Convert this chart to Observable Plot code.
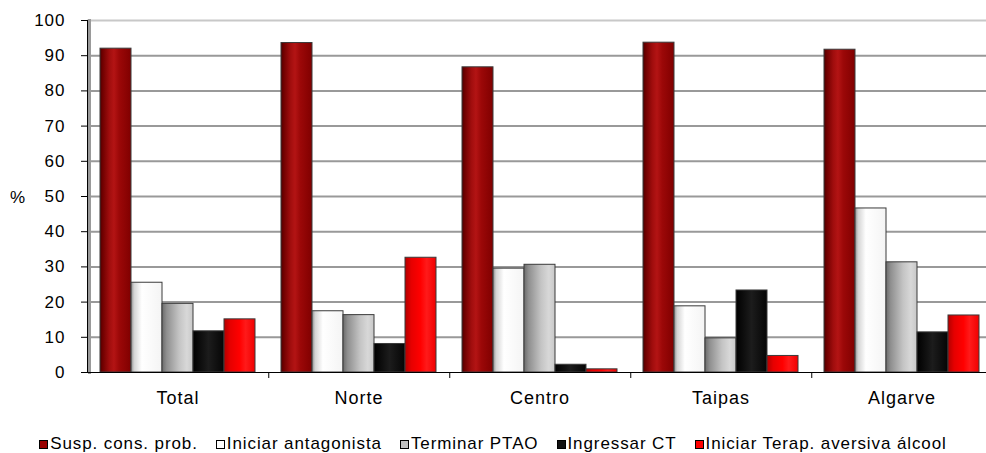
<!DOCTYPE html>
<html><head><meta charset="utf-8">
<script src="https://cdn.jsdelivr.net/npm/d3@7"></script>
<script src="https://cdn.jsdelivr.net/npm/@observablehq/plot@0.6"></script>
<style>
body{margin:0;background:#fff;font-family:"Liberation Sans",Arial,sans-serif;}
#wrap{position:relative;width:986px;height:453px;overflow:hidden;}
#ylab{position:absolute;left:10px;top:188px;font-size:17px;color:#000;}
#legend{position:absolute;left:0;top:434px;width:986px;display:flex;justify-content:center;font-size:17px;letter-spacing:0.9px;color:#000;}
.item{display:flex;align-items:center;margin:0 9px;white-space:nowrap;}
.sw{width:7px;height:7px;border:1px solid #000;margin-right:2px;}
</style></head><body>
<div id="wrap"><div id="chart"></div><div id="ylab">%</div><div id="legend"></div></div>
<script>
const categories = ["Total", "Norte", "Centro", "Taipas", "Algarve"];
const series = ["Susp. cons. prob.", "Iniciar antagonista", "Terminar PTAO", "Ingressar CT", "Iniciar Terap. aversiva álcool"];
const suspConsProb = [92.0, 93.6, 86.7, 93.7, 91.7];
const iniciarAntagonista = [25.5, 17.4, 29.5, 18.8, 46.6];
const terminarPTAO = [19.5, 16.3, 30.6, 9.7, 31.3];
const ingressarCT = [11.7, 8.1, 2.2, 23.3, 11.4];
const iniciarTerap = [15.1, 32.6, 0.9, 4.7, 16.2];
const yTicks = [0, 10, 20, 30, 40, 50, 60, 70, 80, 90, 100];
const swatchColors = ["#990000", "#ffffff", "#c0c0c0", "#111111", "#ff0000"];
const gradientStops = [
  [[0,"#4d0000"],[0.08,"#6e0000"],[0.3,"#a00d0d"],[0.45,"#b31414"],[0.62,"#9c0808"],[1,"#800000"]],
  [[0,"#8c8c8c"],[0.1,"#d4d4d4"],[0.35,"#ffffff"],[1,"#f4f4f4"]],
  [[0,"#6b6b6b"],[0.15,"#8f8f8f"],[0.55,"#c4c4c4"],[0.8,"#d8d8d8"],[1,"#c8c8c8"]],
  [[0,"#000000"],[0.5,"#1c1c1c"],[1,"#050505"]],
  [[0,"#b30000"],[0.2,"#e60000"],[0.5,"#ff0000"],[0.7,"#ff1a1a"],[1,"#f00000"]]
];

const seriesValues = [suspConsProb, iniciarAntagonista, terminarPTAO, ingressarCT, iniciarTerap];
const data = [];
categories.forEach((c, ci) => series.forEach((s, si) => data.push({category: c, series: s, value: seriesValues[si][ci]})));

const W = 986, mL = 86, mR = -7.5;
const step = (W - mL - mR) / categories.length;

const chart = Plot.plot({
  width: W, height: 413,
  marginLeft: mL, marginRight: mR, marginTop: 20, marginBottom: 41,
  style: {fontFamily: "Liberation Sans, Arial, sans-serif", background: "#fff", color: "#000", letterSpacing: "1px"},
  fx: {domain: categories, padding: 0, axis: null},
  x: {domain: series, paddingInner: 0, paddingOuter: 0.336, axis: null},
  y: {domain: [0, 100], axis: null},
  color: {type: "ordinal", domain: series, range: series.map((s, i) => `url(#grad${i})`)},
  marks: [
    Plot.ruleY(yTicks.filter(t => t > 0 && t < 100), {stroke: "#999", strokeWidth: 2}),
    Plot.ruleY([100], {stroke: "#c8c8c8", strokeWidth: 2}),
    Plot.frame({anchor: "left", facetAnchor: "left", stroke: "#9a9a9a", strokeWidth: 3, dx: 2}),
    Plot.barY(data, {fx: "category", x: "series", y: "value", fill: "series", stroke: "#3a3a3a", strokeWidth: 1}),
    Plot.frame({anchor: "left", facetAnchor: "left", stroke: "#000", strokeWidth: 1}),
    Plot.frame({anchor: "bottom", stroke: "#000", strokeWidth: 1}),
    Plot.axisY({ticks: yTicks, tickSize: 6, tickPadding: 16, fontSize: 17, label: null, stroke: "#000"}),
    Plot.axisFx({anchor: "bottom", tickSize: 0, tickPadding: 19, fontSize: 18, label: null}),
    Plot.axisFx({anchor: "bottom", ticks: categories.slice(0, categories.length - 1), tickSize: 6, tickFormat: () => "", label: null, dx: step / 2})
  ]
});

const defs = d3.select(chart).insert("defs", ":first-child");
gradientStops.forEach((stops, i) => {
  const g = defs.append("linearGradient").attr("id", `grad${i}`).attr("x1", 0).attr("x2", 1).attr("y1", 0).attr("y2", 0);
  stops.forEach(([o, c]) => g.append("stop").attr("offset", o).attr("stop-color", c));
});
document.getElementById("chart").appendChild(chart);

const legend = d3.select("#legend");
series.forEach((s, i) => {
  const it = legend.append("div").attr("class", "item");
  it.append("div").attr("class", "sw").style("background", swatchColors[i]);
  it.append("span").text(s);
});
</script>
</body></html>
